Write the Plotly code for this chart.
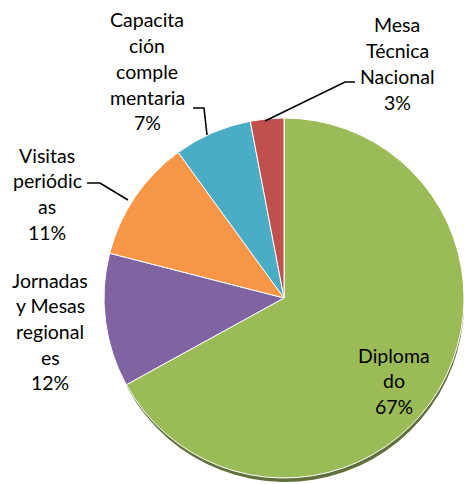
import plotly.graph_objects as go

# Data
categories = ["Diplomado", "Jornadas y Mesas regionales", "Visitas periódicas",
              "Capacitación complementaria", "Mesa Técnica Nacional"]
values = [67, 12, 11, 7, 3]
colors = ["#9BBB59", "#8064A2", "#F79646", "#4BACC6", "#C0504D"]
shadow_colors = ["#4F6228", "#9a9a9a", "#9a9a9a", "#9a9a9a", "#9a9a9a"]
# wrapped label lines as in the reference (last line is the percentage)
label_lines = [
    ["Diploma", "do"],
    ["Jornadas", "y Mesas", "regional", "es"],
    ["Visitas", "periódic", "as"],
    ["Capacita", "ción", "comple", "mentaria"],
    ["Mesa", "Técnica", "Nacional"],
]

W, H = 464, 484
FONT = "Lato"
FS = 19.5
LINE = 25.7

fig = go.Figure()

# drop shadow
cx_s, cy_s, r_s = 285, 303, 179
fig.add_trace(go.Pie(
    values=values, labels=categories, sort=False, direction="clockwise", rotation=0,
    marker=dict(colors=shadow_colors, line=dict(width=0)),
    textinfo="none", textposition="none", hoverinfo="skip", showlegend=False, opacity=0.9,
    domain=dict(x=[(cx_s - r_s) / W, min(1, (cx_s + r_s) / W)],
                y=[(H - cy_s - r_s) / H, (H - cy_s + r_s) / H]),
))

# main pie
cx, cy, r = 284, 298, 180
fig.add_trace(go.Pie(
    values=values, labels=categories, sort=False, direction="clockwise", rotation=0,
    marker=dict(colors=colors, line=dict(color="white", width=1)),
    textinfo="none", textposition="none", showlegend=False,
    domain=dict(x=[(cx - r) / W, min(1, (cx + r) / W)],
                y=[(H - cy - r) / H, (H - cy + r) / H]),
))

# label layout: (center x, first line y) in pixels
label_pos = [(394, 355), (50, 280), (47, 155), (147, 20), (397, 25)]
annotations = []
for lines, v, (lx, ly) in zip(label_lines, values, label_pos):
    for i, t in enumerate(lines + [f"{v}%"]):
        annotations.append(dict(
            x=lx / W, y=1 - (ly + i * LINE) / H, xref="paper", yref="paper",
            text=t, showarrow=False, xanchor="center", yanchor="middle",
            font=dict(family=FONT, size=FS, color="black"),
        ))

# leader lines (pixel polylines)
leaders = [
    [(265, 121), (345, 82), (355, 82)],
    [(207, 135), (204, 108), (193, 108)],
    [(128, 200), (100, 183), (87, 183)],
]
shapes = []
for pts in leaders:
    path = "M " + " L ".join(f"{x / W},{1 - y / H}" for x, y in pts)
    shapes.append(dict(type="path", path=path, xref="paper", yref="paper",
                       line=dict(color="black", width=1.6)))

fig.update_layout(
    width=W, height=H, margin=dict(l=0, r=0, t=0, b=0),
    paper_bgcolor="white", plot_bgcolor="white",
    annotations=annotations, shapes=shapes, showlegend=False,
)

fig.write_html("out.html", config={"displayModeBar": False},
               post_script="document.body.style.margin='0';document.body.style.overflow='hidden';")
